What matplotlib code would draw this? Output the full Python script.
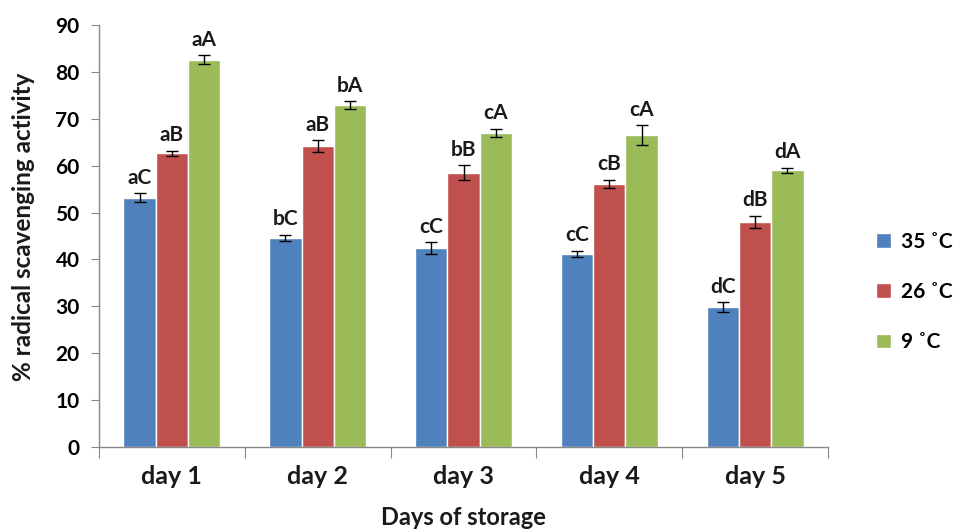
import numpy as np
import matplotlib.pyplot as plt

plt.rcParams["font.family"] = ["Lato", "DejaVu Sans"]

days = ["day 1", "day 2", "day 3", "day 4", "day 5"]
series = ["35 ˚C", "26 ˚C", "9 ˚C"]
colors = ["#4F81BD", "#C0504D", "#9BBB59"]

# mean % scavenging activity per storage temperature
act_35 = [53.2, 44.6, 42.4, 41.2, 29.8]
act_26 = [62.6, 64.2, 58.5, 56.1, 48.0]
act_9 = [82.6, 72.9, 67.0, 66.5, 59.0]

# standard errors
err_35 = [0.9, 0.7, 1.3, 0.6, 1.1]
err_26 = [0.6, 1.2, 1.6, 0.9, 1.3]
err_9 = [0.9, 0.8, 0.9, 2.1, 0.5]

# significance letters
sig_35 = ["aC", "bC", "cC", "cC", "dC"]
sig_26 = ["aB", "aB", "bB", "cB", "dB"]
sig_9 = ["aA", "bA", "cA", "cA", "dA"]

values = [act_35, act_26, act_9]
errors = [err_35, err_26, err_9]
letters = [sig_35, sig_26, sig_9]

fig = plt.figure(figsize=(9.56, 5.32), dpi=100)
ax = fig.add_axes([99 / 956, 1 - 447 / 532, 729 / 956, 422 / 532])

x = np.arange(len(days))
w = 0.222
for i in range(3):
    pos = x + (i - 1) * w
    ax.bar(pos, values[i], w, color=colors[i], edgecolor="white", linewidth=1.0,
           label=series[i], zorder=2)
    ax.errorbar(pos, values[i], yerr=errors[i], fmt="none", ecolor="black",
                elinewidth=1.0, capsize=4, capthick=1.0, zorder=3)
    for p, v, e, t in zip(pos, values[i], errors[i], letters[i]):
        ax.annotate(t, (p, v + e), xytext=(0, 4), textcoords="offset points",
                    ha="center", va="bottom", fontsize=15, fontweight="bold",
                    color="#1a1a1a")

ax.set_xlim(-0.5, len(days) - 0.5)
ax.set_ylim(0, 90)
ax.set_yticks(range(0, 91, 10))
ax.tick_params(axis="y", labelsize=15, length=6, color="#888888", pad=8)
for lbl in ax.get_yticklabels():
    lbl.set_fontweight("bold")

# category ticks sit between the groups
ax.set_xticks(np.arange(-0.5, len(days), 1.0))
ax.set_xticklabels([])
ax.set_xticks(x, minor=True)
ax.set_xticklabels(days, minor=True, fontsize=18, fontweight="bold", color="#1a1a1a")
ax.tick_params(axis="x", which="major", length=8, color="#888888")
ax.tick_params(axis="x", which="minor", length=0, pad=13)

for s in ["top", "right"]:
    ax.spines[s].set_visible(False)
for s in ["left", "bottom"]:
    ax.spines[s].set_color("#888888")
    ax.spines[s].set_linewidth(1.0)

ax.set_xlabel("Days of storage", fontsize=17, fontweight="bold", color="#1a1a1a")
ax.xaxis.label.set_va("center")
ax.xaxis.set_label_coords(0.5, -0.168)
fig.text(24 / 956, 1 - 227 / 532, "% radical scavenging activity", rotation=90,
         ha="center", va="center", fontsize=17.5, fontweight="bold", color="#1a1a1a")

fig.legend(loc="center left", bbox_to_anchor=(876 / 956, 1 - 292 / 532),
           frameon=False, borderpad=0, borderaxespad=0, handlelength=0.7,
           handleheight=0.7, handletextpad=0.5, labelspacing=1.45,
           prop={"weight": "bold", "size": 15})

fig.savefig("out.png", dpi=100)
